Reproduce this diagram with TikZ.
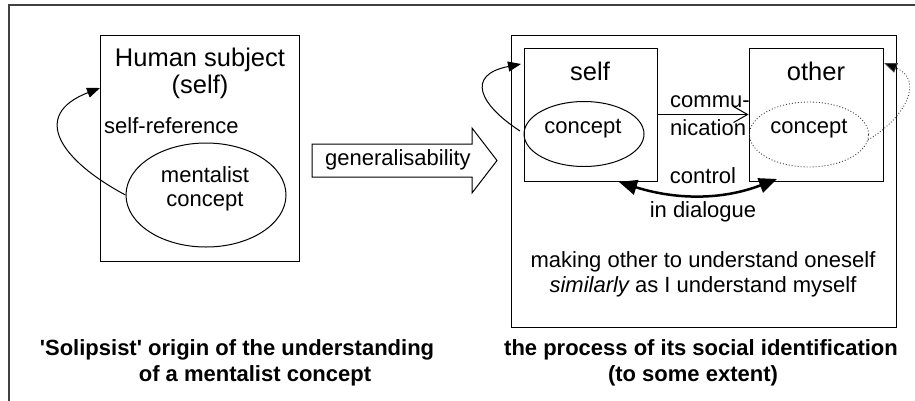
\documentclass[tikz,border=0pt]{standalone}
\usepackage{fontspec}
\setmainfont{Liberation Sans}
\usetikzlibrary{arrows.meta,shapes.geometric}
\begin{document}
\begin{tikzpicture}[x=1pt,y=-1pt,
  box/.style={draw,line width=1pt,inner sep=0pt},
  ell/.style={draw,ellipse,line width=1pt,inner sep=0pt},
  txt/.style={inner sep=0pt,anchor=base,font=\fontsize{22}{26}\selectfont},
  ttl/.style={inner sep=0pt,anchor=base,font=\fontsize{25.5}{30}\selectfont},
  captxt/.style={inner sep=0pt,anchor=base,font=\fontsize{22}{26}\selectfont\bfseries},
  tri/.style={-{Triangle[length=13pt,width=10pt]}},
  conn/.style={line width=1pt},
]
\useasboundingbox (0,0) rectangle (915,400);
% outer frame
\draw[line width=1.2pt,draw=black!75] (9,5) rectangle (930,420);

% ---------- left part ----------
\node[box,minimum width=199pt,minimum height=226pt] (hs) at (199.5,148) {};
\node[ell,minimum width=160pt,minimum height=104pt] (mc) at (206,195) {};
\node[ttl] (hst1) at (200,66) {Human subject};
\node[ttl] (hst2) at (200,93) {(self)};
\node[txt,anchor=base west] (sref) at (104,133) {self-reference};
\node[txt] (mct1) at (205,182) {mentalist};
\node[txt] (mct2) at (205,206) {concept};
\coordinate (hsin) at (100,88);
\draw[conn,tri] (mc.west) .. controls (60,160) and (30,115) .. (hsin);

% generalisability arrow
\draw[line width=1pt] (312,144) -- (472,144) -- (472,128) -- (497,160.5) -- (472,193) -- (472,177) -- (312,177) -- cycle;
\node[txt] (gen) at (398,165) {generalisability};

% ---------- right part ----------
\node[box,minimum width=385pt,minimum height=292pt] (rb) at (703.5,181) {};
\node[box,minimum width=133pt,minimum height=133pt] (sb) at (590.5,114.5) {};
\node[box,minimum width=134pt,minimum height=133pt] (ob) at (816,114.5) {};
\node[ell,minimum width=120pt,minimum height=65pt] (sc) at (584,134) {};
\node[ell,dotted,draw=black!75,line width=0.9pt,minimum width=119pt,minimum height=65pt] (oc) at (809,134.5) {};
\node[ttl] (sbt) at (590,80) {self};
\node[ttl] (obt) at (816,80) {other};
\node[txt] (sct) at (583,133) {concept};
\node[txt] (oct) at (809,133) {concept};

% self loop
\coordinate (sl0) at (520,131);
\coordinate (sl1) at (521,64);
\draw[conn,tri] (sl0) .. controls (480,105) and (465,75) .. (sl1);
% other loop (dotted)
\coordinate (ol0) at (868,140);
\coordinate (ol1) at (884,63);
\draw[line width=0.9pt,dotted,draw=black!75,-{Triangle[length=13pt,width=10pt,fill=black]}] (ol0) .. controls (905,118) and (925,80) .. (ol1);

% communication
\draw[conn,-{Straight Barb[length=14pt,width=16pt]}] (sb.east) -- (ob.west);
\node[txt,anchor=base west] (com1) at (670,107) {commu-};
\node[txt,anchor=base west] (com2) at (670,135) {nication};

% control in dialogue
\coordinate (cl) at (619,182);
\coordinate (cr) at (777,179);
\draw[line width=2.5pt,{Triangle[length=18pt,width=15pt]}-{Triangle[length=18pt,width=15pt]}] (cl) .. controls (680,201) and (725,199) .. (cr);
\node[txt] (ctl) at (703,183) {control};
\node[txt] (dia) at (703,217) {in dialogue};

\node[txt] (mk1) at (703,267) {making other to understand oneself};
\node[txt] (mk2) at (703,292) {\itshape similarly\upshape{} as I understand myself};

% captions
\node[captxt] (lc1) at (237,355) {\textquotesingle Solipsist\textquotesingle{} origin of the understanding};
\node[captxt] (lc2) at (255,381) {of a mentalist concept};
\node[captxt] (rc1) at (701,355) {the process of its social identification};
\node[captxt] (rc2) at (693,381) {(to some extent)};
\end{tikzpicture}
\end{document}
